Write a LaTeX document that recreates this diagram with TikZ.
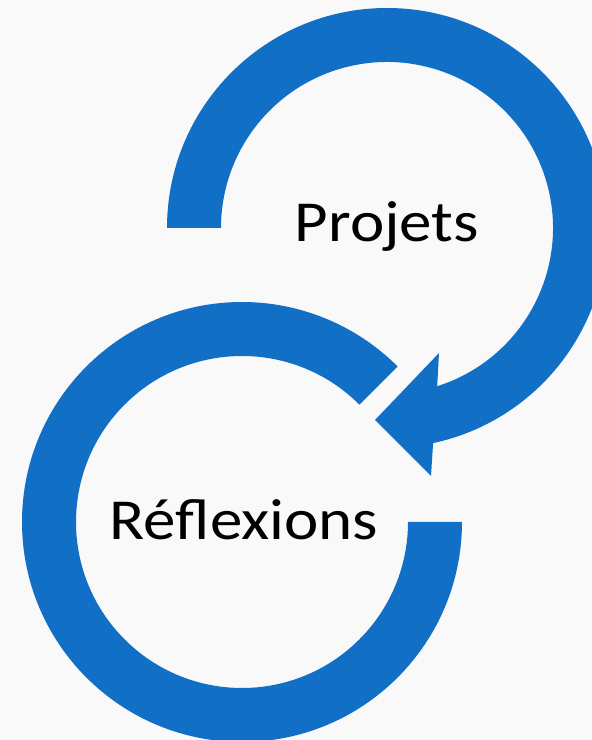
\documentclass[tikz,border=0pt]{standalone}
\usepackage{fontspec}
\setmainfont{Carlito}
\usetikzlibrary{calc}
\definecolor{arrowblue}{RGB}{17,112,198}
\definecolor{bggray}{RGB}{249,249,250}
\begin{document}
\begin{tikzpicture}[x=1pt,y=1pt,
  band/.style={fill=arrowblue,draw=none},
  label/.style={anchor=base,inner sep=0pt,xscale=1.12,font=\fontsize{58}{60}\selectfont,text=black}]
\fill[bggray] (0,0) rectangle (592,740);
\useasboundingbox (0,0) rectangle (592,740);
\clip (0,0) rectangle (592,740);
\coordinate (T) at (387,512);
\coordinate (B) at (242,218);
% bottom circular arrow (Reflexions)
\fill[band] ($(B)+(0:220)$) arc[start angle=0,end angle=-315,radius=220]
  -- ($(B)+(45:166)$) arc[start angle=45,end angle=360,radius=166] -- cycle;
% top circular arrow (Projets) with arrowhead
\coordinate (ob) at (431,264);
\coordinate (tip) at (375,320);
\coordinate (ib) at (439,387);
\fill[band] ($(T)+(180:220)$) arc[start angle=180,end angle=-77.9,radius=220]
  -- (ob) -- (tip) -- (ib) -- ($(T)+(-72.4:166)$)
  arc[start angle=-72.4,end angle=180,radius=166] -- cycle;
\node[label] (proj) at (387,498) {Projets};
\node[label] (refl) at (244,200) {Réflexions};
\end{tikzpicture}
\end{document}
